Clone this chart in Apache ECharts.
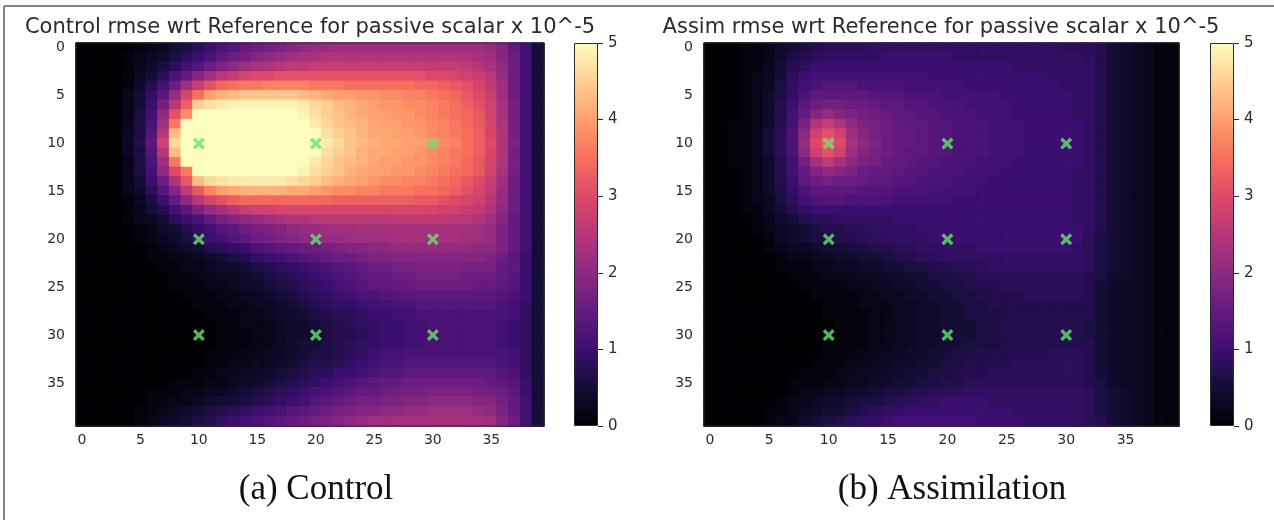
<!DOCTYPE html>
<html>
<head>
<meta charset="utf-8">
<title>rmse passive scalar</title>
<script src="https://cdn.jsdelivr.net/npm/echarts@6/dist/echarts.min.js"></script>
<style>
  html, body { margin: 0; background: #fff; }
  #chart { width: 1274px; height: 520px; }
</style>
</head>
<body>
<div id="chart"></div>
<script>
// rmse x 10^-5, one string per grid row (row 0 at top), values in tenths
const controlRows = [
  '0 0 0 0 0 1 2 3 5 6  8 10 12 13 15 16 17 18 19 20  21 21 22 22 22 22 22 22 22 22  22 22 22 22 22 21 19 15 11 5',
  '0 0 0 0 1 2 3 4 6 8  10 12 14 16 17 19 20 21 22 23  23 24 24 24 24 24 24 24 24 24  24 24 24 24 23 22 19 16 11 5',
  '0 0 0 0 1 2 4 6 8 11  13 16 18 20 22 23 24 25 26 26  27 27 27 27 27 27 27 27 27 27  27 27 27 26 25 23 20 16 11 5',
  '0 0 0 0 1 3 5 8 12 15  19 22 25 27 29 30 30 31 31 31  31 31 31 31 31 31 31 31 31 31  30 30 29 28 27 25 21 16 11 5',
  '0 0 0 0 1 4 7 11 16 22  27 31 34 35 36 36 37 37 37 37  36 36 36 35 35 35 35 35 35 34  34 33 32 31 29 26 22 16 11 5',
  '0 0 0 0 2 5 9 14 21 29  35 40 42 43 44 44 44 44 44 43  42 41 40 40 39 39 38 38 37 37  36 35 34 32 30 27 22 16 11 5',
  '0 0 0 0 2 5 10 17 25 33  45 47 48 49 49 49 49 49 49 48  46 45 43 42 41 40 39 39 38 38  37 36 35 33 31 28 23 17 11 5',
  '0 0 0 0 2 6 11 20 31 38  50 50 50 50 50 50 50 50 50 49  47 45 44 42 41 40 40 39 39 38  37 36 35 34 32 28 23 17 11 5',
  '0 0 0 0 2 6 12 22 36 50  50 50 50 50 50 50 50 50 50 50  48 46 44 43 42 41 40 40 39 39  38 37 36 34 32 29 24 17 11 5',
  '0 0 0 0 3 6 13 25 43 50  50 50 50 50 50 50 50 50 50 50  50 47 45 44 42 41 41 40 40 39  38 37 36 35 33 29 24 17 11 5',
  '0 0 0 0 3 7 14 28 46 50  50 50 50 50 50 50 50 50 50 50  50 48 46 44 43 42 41 41 40 40  39 38 37 35 33 30 24 18 11 5',
  '0 0 0 0 3 6 13 25 43 50  50 50 50 50 50 50 50 50 50 50  50 47 45 44 42 41 41 40 40 39  38 37 36 35 33 29 24 17 11 5',
  '0 0 0 0 2 6 12 22 36 50  50 50 50 50 50 50 50 50 50 50  48 46 44 43 42 41 40 40 39 39  38 37 36 34 32 29 24 17 11 5',
  '0 0 0 0 2 6 11 20 30 36  50 50 50 50 50 50 50 50 50 49  47 45 44 42 41 40 40 39 39 38  37 36 35 34 32 28 23 17 11 5',
  '0 0 0 0 2 5 10 16 24 32  43 46 47 48 48 48 48 48 47 46  45 43 42 41 40 39 38 38 37 37  36 35 34 32 30 27 22 16 11 5',
  '0 0 0 0 2 4 8 13 19 26  32 37 40 41 42 42 42 42 41 41  40 39 38 38 37 37 36 36 36 35  35 34 33 31 29 26 21 16 11 5',
  '0 0 0 0 1 3 6 10 15 20  25 29 31 33 34 34 34 34 34 34  34 34 33 33 33 33 33 33 33 32  32 31 30 29 28 25 21 16 11 5',
  '0 0 0 0 1 2 5 7 11 14  18 21 23 25 27 28 28 29 29 29  29 29 29 29 29 29 29 29 29 29  29 28 28 27 26 24 20 16 11 5',
  '0 0 0 0 1 2 3 5 8 10  12 15 17 19 20 21 22 23 24 24  25 25 25 25 25 25 25 26 26 26  26 26 25 25 24 22 19 15 11 5',
  '0 0 0 0 0 1 2 4 5 7  9 11 13 14 16 17 18 19 20 21  21 22 22 22 23 23 23 23 23 23  23 23 23 23 22 21 18 15 11 5',
  '0 0 0 0 0 1 2 3 4 6  8 10 11 13 14 16 17 18 19 20  20 21 21 22 22 22 22 23 23 23  23 23 23 22 22 21 18 15 11 5',
  '0 0 0 0 0 0 1 2 3 4  5 7 8 9 10 12 13 14 15 16  16 17 18 19 19 20 20 21 21 21  21 21 21 21 20 20 18 15 11 5',
  '0 0 0 0 0 0 1 1 2 2  3 4 5 6 7 9 10 11 12 13  14 15 16 16 17 18 18 19 19 19  19 19 19 19 19 18 16 14 10 5',
  '0 0 0 0 0 0 0 1 1 2  2 3 4 4 5 6 7 8 9 10  11 12 13 14 15 16 16 17 17 18  18 18 18 17 17 17 15 14 10 5',
  '0 0 0 0 0 0 0 0 1 1  2 2 3 3 4 5 6 7 8 9  10 11 12 13 14 15 15 16 16 17  17 17 17 16 16 16 15 13 10 5',
  '0 0 0 0 0 0 0 0 1 1  1 2 2 3 4 4 5 6 7 8  9 10 11 12 13 14 14 15 15 16  16 16 16 16 15 15 14 13 10 5',
  '0 0 0 0 0 0 0 0 0 1  1 1 2 2 3 3 4 5 6 7  8 9 10 11 12 12 13 13 14 14  14 14 14 14 14 14 13 12 10 5',
  '0 0 0 0 0 0 0 0 0 0  1 1 1 2 2 3 3 4 5 6  7 8 9 9 10 11 11 12 12 13  13 13 13 13 13 13 12 11 9 5',
  '0 0 0 0 0 0 0 0 0 0  0 1 1 1 2 2 3 4 4 5  6 7 8 8 9 10 10 11 11 12  12 12 12 12 12 12 12 11 9 5',
  '0 0 0 0 0 0 0 0 0 0  0 0 1 1 2 2 2 3 4 4  5 6 7 8 9 9 10 10 11 11  12 12 12 12 12 12 11 10 9 5',
  '0 0 0 0 0 0 0 0 0 0  0 0 1 1 1 2 2 3 4 4  5 6 7 7 8 9 10 10 11 11  12 12 12 12 12 12 11 10 9 5',
  '0 0 0 0 0 0 0 0 0 0  0 0 1 1 1 2 2 3 4 5  5 6 7 8 9 9 10 10 11 11  12 12 12 12 12 12 11 10 9 5',
  '0 0 0 0 0 0 0 0 0 0  0 1 1 1 2 2 3 3 4 5  6 6 7 8 9 10 11 11 12 12  12 12 12 12 12 12 12 11 9 5',
  '0 0 0 0 0 0 0 0 0 0  0 1 1 2 2 3 3 4 5 6  7 7 8 9 10 11 12 12 13 13  13 13 13 13 13 13 12 11 9 5',
  '0 0 0 0 0 0 0 0 0 0  1 1 2 2 3 3 4 5 6 7  8 8 10 10 11 12 13 13 14 14  14 14 14 14 14 14 13 12 9 5',
  '0 0 0 0 0 0 0 0 1 1  1 2 2 3 4 4 5 6 7 8  9 10 11 12 13 14 15 15 16 16  16 16 16 16 16 15 14 13 10 5',
  '0 0 0 0 0 0 1 1 1 2  2 3 3 4 5 6 7 8 9 10  11 12 13 14 15 15 16 17 17 17  18 18 18 18 17 17 16 14 10 5',
  '0 0 0 0 0 0 1 1 2 2  3 4 5 5 6 7 8 9 10 11  13 14 15 16 17 17 18 18 19 19  20 20 20 20 19 19 17 15 11 5',
  '0 0 0 0 0 1 1 2 3 4  5 6 7 8 9 10 11 12 13 14  15 16 17 18 19 19 20 20 21 21  22 22 22 22 21 20 18 15 11 5',
  '0 0 0 0 0 1 2 3 4 5  6 7 9 10 11 12 13 14 15 16  17 18 19 20 21 22 22 23 23 23  23 23 23 23 23 22 19 16 11 5'
];

const assimRows = [
  '0 0 0 1 1 2 4 5 6 7  8 8 8 8 9 9 9 9 9 9  9 9 9 9 9 9 9 9 9 9  8 8 8 7 5 4 3 2 1 1',
  '0 0 0 1 1 2 4 6 7 8  9 9 9 9 9 10 10 10 10 10  10 9 9 9 9 9 9 9 9 9  9 9 8 7 5 4 3 2 1 1',
  '0 0 0 1 1 3 5 7 8 10  10 10 10 10 10 10 10 10 10 10  10 10 10 10 10 10 9 9 9 9  9 9 9 7 5 4 3 2 1 1',
  '0 0 0 1 2 3 5 8 10 11  11 11 11 11 11 11 11 11 11 10  10 10 10 10 10 10 10 10 10 9  9 9 9 7 5 4 3 2 1 1',
  '0 0 0 1 2 3 6 9 11 12  13 13 13 12 12 12 12 11 11 11  11 11 10 10 10 10 10 10 10 10  9 9 9 7 5 4 3 2 1 1',
  '0 0 0 1 2 4 6 9 12 14  14 14 14 14 13 13 13 12 12 12  11 11 11 11 11 10 10 10 10 10  10 9 9 7 5 4 3 2 1 1',
  '0 0 0 1 2 4 7 10 14 16  17 17 16 16 15 14 14 13 13 12  12 12 11 11 11 11 10 10 10 10  10 9 9 7 5 4 3 2 1 1',
  '0 0 0 1 2 4 7 11 15 19  21 19 18 17 16 15 14 14 13 13  12 12 12 11 11 11 10 10 10 10  10 9 9 7 5 4 3 2 1 1',
  '0 0 1 1 2 4 7 11 17 24  27 24 20 18 17 16 15 14 14 13  13 12 12 12 11 11 11 10 10 10  10 10 9 7 5 4 3 2 1 1',
  '0 0 1 1 2 5 8 12 20 28  31 28 22 19 17 16 15 15 14 13  13 12 12 12 11 11 11 10 10 10  10 10 9 7 5 4 3 2 1 1',
  '0 0 1 1 2 5 8 12 21 30  34 30 23 20 18 16 15 15 14 13  13 12 12 12 11 11 11 10 10 10  10 10 9 7 5 4 3 2 1 1',
  '0 0 1 1 2 5 8 12 20 28  31 28 22 19 17 16 15 14 14 13  13 12 12 12 11 11 11 10 10 10  10 10 9 7 5 4 3 2 1 1',
  '0 0 1 1 2 4 7 11 17 23  26 23 20 18 17 15 15 14 13 13  12 12 12 11 11 11 10 10 10 10  10 10 9 7 5 4 3 2 1 1',
  '0 0 0 1 2 4 7 11 15 19  20 19 18 16 15 15 14 13 13 12  12 12 11 11 11 10 10 10 10 10  10 9 9 7 5 4 3 2 1 1',
  '0 0 0 1 2 4 7 10 14 16  17 16 16 15 14 14 13 13 12 12  12 11 11 11 10 10 10 10 10 10  10 9 9 7 5 4 3 2 1 1',
  '0 0 0 1 2 4 6 9 12 14  14 14 14 13 13 13 12 12 12 11  11 11 11 10 10 10 10 10 10 10  10 9 9 7 5 4 3 2 1 1',
  '0 0 0 1 2 3 6 8 11 12  13 13 12 12 12 12 11 11 11 11  11 10 10 10 10 10 10 10 10 10  10 9 9 7 5 4 3 2 1 1',
  '0 0 0 1 1 3 5 7 9 10  10 10 10 10 10 10 10 10 10 10  10 10 10 10 10 10 10 10 10 10  10 9 9 7 5 4 3 2 1 1',
  '0 0 0 0 1 2 4 5 7 8  8 9 9 9 9 9 10 10 10 10  10 10 10 10 10 10 10 10 10 10  10 9 9 7 5 4 3 2 1 1',
  '0 0 0 0 1 2 3 4 5 6  7 7 8 8 9 9 9 9 10 10  10 10 10 10 10 10 10 10 10 10  10 10 9 7 5 4 3 2 1 1',
  '0 0 0 0 0 1 3 4 5 6  6 7 7 8 8 9 9 9 9 10  10 10 10 10 10 10 10 10 10 10  10 10 8 6 5 4 3 2 1 1',
  '0 0 0 0 0 1 2 3 3 4  5 5 6 6 7 7 8 8 9 9  9 9 9 10 10 10 10 10 10 10  10 9 8 6 5 4 3 2 1 1',
  '0 0 0 0 0 0 1 2 2 3  3 4 4 5 5 6 7 7 8 8  9 9 9 9 9 9 9 9 9 9  9 9 8 6 5 4 3 2 1 1',
  '0 0 0 0 0 0 1 1 1 2  2 3 3 4 4 5 5 6 6 7  7 8 8 8 9 9 9 9 9 9  9 9 8 6 5 4 3 2 1 1',
  '0 0 0 0 0 0 0 1 1 1  2 2 2 3 3 4 4 5 5 6  6 7 7 8 8 8 8 8 8 8  8 8 7 6 4 4 3 2 1 1',
  '0 0 0 0 0 0 0 0 1 1  1 1 2 2 3 3 4 4 5 5  6 6 7 7 7 8 8 8 8 8  8 8 7 5 4 3 3 2 1 1',
  '0 0 0 0 0 0 0 0 0 1  1 1 1 2 2 3 3 4 4 5  5 6 6 7 7 7 7 8 8 8  8 8 7 5 4 3 3 2 1 1',
  '0 0 0 0 0 0 0 0 0 0  1 1 1 2 2 2 3 3 4 4  5 5 6 6 7 7 7 7 7 7  7 7 7 5 4 3 3 2 1 1',
  '0 0 0 0 0 0 0 0 0 0  1 1 1 1 2 2 3 3 4 4  5 5 6 6 6 7 7 7 7 7  7 7 7 5 4 3 3 2 1 1',
  '0 0 0 0 0 0 0 0 0 0  0 1 1 1 2 2 3 3 4 4  5 5 5 6 6 7 7 7 7 7  7 7 6 5 4 3 3 2 1 1',
  '0 0 0 0 0 0 0 0 0 0  0 1 1 1 2 2 3 3 4 4  5 5 5 6 6 7 7 7 7 7  7 7 6 5 4 3 3 2 1 1',
  '0 0 0 0 0 0 0 0 0 0  1 1 1 1 2 2 3 3 4 4  5 5 6 6 6 7 7 7 7 7  7 7 7 5 4 3 3 2 1 1',
  '0 0 0 0 0 0 0 0 0 0  1 1 1 2 2 3 3 4 4 5  5 6 6 7 7 7 7 7 7 8  8 8 7 5 4 3 3 2 1 1',
  '0 0 0 0 0 0 0 0 0 1  1 1 2 2 3 3 4 4 5 5  6 6 7 7 7 7 8 8 8 8  8 8 7 5 4 3 3 2 1 1',
  '0 0 0 0 0 0 0 0 1 1  1 2 2 3 3 4 4 5 5 6  6 7 7 7 8 8 8 8 8 8  8 8 7 5 4 3 3 2 1 1',
  '0 0 0 0 0 0 0 1 1 1  2 2 3 3 4 4 5 5 6 6  7 7 8 8 8 8 8 8 8 8  8 8 7 6 4 3 3 2 1 1',
  '0 0 0 0 0 0 0 1 2 2  3 3 4 4 5 6 6 7 7 8  8 8 9 9 9 9 9 9 9 9  9 9 8 6 5 4 3 2 1 1',
  '0 0 0 0 0 0 1 2 2 3  4 4 5 6 6 7 8 8 9 9  10 10 10 10 9 9 9 9 9 9  9 9 8 6 5 4 3 2 1 1',
  '0 0 0 0 0 1 1 2 3 4  5 5 6 7 8 9 9 10 10 10  10 10 10 10 10 10 9 9 9 9  9 9 8 6 5 4 3 2 1 1',
  '0 0 0 0 0 1 2 2 4 5  6 7 8 9 9 10 11 11 11 11  11 11 11 10 10 10 10 9 9 9  9 9 8 7 5 4 3 2 1 1'
];

// observation points (column, row)
const sensorCols = [10, 20, 30];
const sensorRows = [10, 20, 30];

const colorMin = 0;
const colorMax = 5;
const gridSize = 40;
const tickEvery = 5;

// matplotlib magma
const magma = ['#000004', '#140e36', '#3b0f70', '#641a80', '#8c2981', '#b73779',
  '#de4968', '#f7705c', '#fe9f6d', '#fecf92', '#fcfdbf'];

const cellNames = [];
for (let i = 0; i < gridSize; i++) cellNames.push(String(i));

// each cell gets a thin border of its own colour so neighbouring cells leave no seams
function toCells(rows) {
  const out = [];
  rows.forEach((row, y) => {
    row.trim().split(/\s+/).forEach((v, x) => {
      const val = Math.min(Number(v) / 10, colorMax);
      out.push({
        value: [x, y, val],
        itemStyle: { borderColor: echarts.color.lerp((val - colorMin) / (colorMax - colorMin), magma), borderWidth: 1 }
      });
    });
  });
  return out;
}

const sensors = [];
sensorRows.forEach(r => sensorCols.forEach(c => sensors.push([c, r])));

const ink = '#2b2b2b';
const tickFont = { color: ink, fontFamily: 'DejaVu Sans', fontSize: 14 };

function heatX(g) {
  return {
    gridIndex: g, type: 'category', data: cellNames,
    axisLine: { lineStyle: { color: ink } },
    axisTick: { alignWithLabel: true, interval: tickEvery - 1, length: 5, lineStyle: { color: ink } },
    axisLabel: Object.assign({ interval: tickEvery - 1, margin: 7 }, tickFont),
    splitLine: { show: false }
  };
}
function heatY(g) {
  return {
    gridIndex: g, type: 'category', data: cellNames, inverse: true,
    axisLine: { lineStyle: { color: ink } },
    axisTick: { alignWithLabel: true, interval: tickEvery - 1, length: 5, lineStyle: { color: ink } },
    axisLabel: Object.assign({ interval: tickEvery - 1, margin: 11 }, tickFont),
    splitLine: { show: false }
  };
}
function barX(g) {
  return { gridIndex: g, type: 'category', data: [''], show: false };
}
function barY(g) {
  return {
    gridIndex: g, type: 'value', min: colorMin, max: colorMax, interval: 1, position: 'right',
    axisLine: { show: false },
    axisTick: { show: true, length: 5, lineStyle: { color: ink } },
    axisLabel: Object.assign({ margin: 10 }, tickFont, { fontSize: 15 }),
    splitLine: { show: false }
  };
}

const gradStops = magma.slice().reverse().map((c, i) => ({ offset: i / (magma.length - 1), color: c }));
const xMark = 'path://M2.4,0 L6,3.6 L9.6,0 L12,2.4 L8.4,6 L12,9.6 L9.6,12 L6,8.4 L2.4,12 L0,9.6 L3.6,6 L0,2.4 Z';

function heatSeries(axis, rows) {
  return {
    type: 'heatmap', xAxisIndex: axis, yAxisIndex: axis,
    data: toCells(rows), progressive: 0, silent: true,
    emphasis: { disabled: true }
  };
}
function sensorSeries(axis) {
  return {
    type: 'scatter', xAxisIndex: axis, yAxisIndex: axis, data: sensors,
    symbol: xMark, symbolSize: 12, silent: true, z: 5,
    itemStyle: { color: '#62e66c' }
  };
}
function colorbarSeries(axis) {
  return {
    type: 'bar', xAxisIndex: axis, yAxisIndex: axis, data: [colorMax],
    barWidth: '100%', silent: true,
    itemStyle: {
      color: new echarts.graphic.LinearGradient(0, 0, 0, 1, gradStops),
      borderColor: ink, borderWidth: 1
    }
  };
}

const chart = echarts.init(document.getElementById('chart'));

const titleFont = '21px "DejaVu Sans"';
const captionFont = '35px "Liberation Serif"';
function label(text, x, y, font, fill) {
  return { type: 'text', x: x, y: y, style: { text: text, font: font, fill: fill,
    align: 'center', verticalAlign: 'middle', textAlign: 'center', textVerticalAlign: 'middle' } };
}

const option = {
  animation: false,
  backgroundColor: '#fff',
  grid: [
    { left: 76, top: 43, width: 468, height: 383, show: true, borderColor: ink, borderWidth: 1, backgroundColor: 'transparent', z: 4 },
    { left: 574, top: 43, width: 24, height: 383 },
    { left: 704, top: 43, width: 475, height: 383, show: true, borderColor: ink, borderWidth: 1, backgroundColor: 'transparent', z: 4 },
    { left: 1210, top: 43, width: 24, height: 383 }
  ],
  xAxis: [heatX(0), barX(1), heatX(2), barX(3)],
  yAxis: [heatY(0), barY(1), heatY(2), barY(3)],
  visualMap: [
    { type: 'continuous', min: colorMin, max: colorMax, seriesIndex: 0, show: false, inRange: { color: magma } },
    { type: 'continuous', min: colorMin, max: colorMax, seriesIndex: 3, show: false, inRange: { color: magma } }
  ],
  series: [
    heatSeries(0, controlRows), sensorSeries(0), colorbarSeries(1),
    heatSeries(2, assimRows), sensorSeries(2), colorbarSeries(3)
  ],
  graphic: [
    { type: 'line', shape: { x1: 4, y1: 6, x2: 1274, y2: 6 }, style: { stroke: '#5a5a5a', lineWidth: 1.5 } },
    { type: 'line', shape: { x1: 4, y1: 6, x2: 4, y2: 520 }, style: { stroke: '#5a5a5a', lineWidth: 1.5 } },
    label('Control rmse wrt Reference for passive scalar x 10^-5', 310, 28, titleFont, ink),
    label('Assim rmse wrt Reference for passive scalar x 10^-5', 941, 28, titleFont, ink),
    label('(a) Control', 316, 490, captionFont, '#111'),
    label('(b) Assimilation', 952, 490, captionFont, '#111')
  ]
};

chart.setOption(option);
</script>
</body>
</html>
